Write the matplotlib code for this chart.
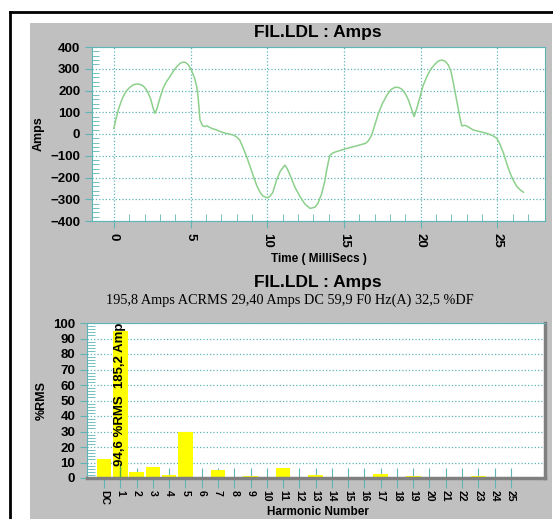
import numpy as np
import matplotlib
matplotlib.use("Agg")
import matplotlib.pyplot as plt
from matplotlib.patches import Rectangle
from matplotlib.lines import Line2D

plt.rcParams['font.family'] = ['Liberation Sans', 'DejaVu Sans']

# waveform (ms, A)
t = [0.0, 0.1, 0.28, 0.45, 0.6, 0.8, 1.04, 1.25, 1.48, 1.7, 1.91, 2.1, 2.24, 2.4, 2.55, 2.67,
     2.8, 2.9, 3.05, 3.2, 3.4, 3.65, 3.9, 4.1, 4.3, 4.48, 4.65, 4.85, 5.07, 5.25, 5.4, 5.5,
     5.61, 5.78, 5.95, 6.05, 6.2, 6.37, 6.7, 7.13, 7.5, 7.8, 8.0, 8.2, 8.4, 8.65, 8.9,
     9.1, 9.3, 9.5, 9.7, 9.96, 10.15, 10.35, 10.6, 10.85, 11.15, 11.3, 11.48, 11.8, 12.13,
     12.45, 12.78, 13.1, 13.3, 13.55, 13.75, 13.87, 14.0, 14.09, 14.25, 14.5, 15.2, 15.8,
     16.4, 16.6, 16.8, 17.0, 17.24, 17.5, 17.8, 18.05, 18.33, 18.55, 18.77, 19.0, 19.2,
     19.4, 19.57, 19.75, 19.96, 20.15, 20.4, 20.65, 20.94, 21.15, 21.38, 21.6, 21.8, 21.98,
     22.13, 22.3, 22.46, 22.58, 22.68, 22.85, 23.0, 23.2, 23.44, 23.9, 24.3, 24.7, 24.96,
     25.15, 25.4, 25.6, 25.83, 26.05, 26.27, 26.5, 26.7]
amps = [26, 60, 110, 145, 172, 197, 215, 226, 230, 228, 221, 205, 187, 160, 120, 95,
        115, 141, 177, 210, 238, 264, 292, 310, 324, 330, 330, 318, 290, 258, 218, 160,
        64, 38, 34, 38, 32, 26, 18, 6, 0, -5, -14, -28, -60, -104, -155,
        -196, -235, -265, -284, -293, -288, -270, -212, -170, -143, -160, -189, -245, -288,
        -322, -342, -337, -318, -273, -215, -166, -120, -97, -88, -81, -66, -55,
        -43, -30, -5, 40, 95, 140, 179, 204, 215, 214, 206, 185, 156,
        115, 80, 120, 172, 222, 264, 298, 322, 336, 340, 334, 317, 285,
        233, 170, 110, 65, 37, 40, 37, 28, 18, 10, 3, -8, -20,
        -45, -89, -135, -181, -215, -242, -258, -268]

harmonics = ['DC'] + [str(i) for i in range(1, 26)]
pct_rms = [12, 94.6, 3.8, 6.8, 2, 30, 0.7, 5.2, 0.7, 1.1, 0.6, 6.7, 0.6, 1.8, 0.4,
           0.4, 0.4, 2.9, 0.4, 1.2, 0.4, 0.3, 0.3, 1.4, 0.4, 0.4]

title = 'FIL.LDL : Amps'
summary = '195,8 Amps ACRMS 29,40 Amps DC 59,9 F0 Hz(A) 32,5 %DF'
bar_note = '94,6 %RMS  185,2 Amps'

W, H = 553, 519
fig = plt.figure(figsize=(W / 100, H / 100), dpi=100)
fig.patch.set_facecolor('white')

def fx(px):
    return px / W

def fy(py):
    return 1 - py / H

# gray panel and black frame
fig.patches.append(Rectangle((fx(30), 0), fx(552) - fx(30), fy(23), transform=fig.transFigure,
                             facecolor='#c0c0c0', edgecolor='none', zorder=-10))
fig.lines.append(Line2D([fx(9.5), fx(9.5)], [0, fy(12)], transform=fig.transFigure,
                        color='black', lw=2, zorder=-10))
fig.lines.append(Line2D([fx(9.5), 1], [fy(12), fy(12)], transform=fig.transFigure,
                        color='black', lw=2, zorder=-10))

teal = '#5fb5b5'

# ---- top: waveform
ax1 = fig.add_axes([fx(92), fy(221), fx(545) - fx(92), fy(47) - fy(221)])
ax1.plot(t, amps, color='#8cd08c', lw=1.1)
ax1.set_xlim(-1.43, 28.1)
ax1.set_ylim(-400, 400)
ax1.set_yticks(range(-400, 401, 100))
ax1.set_xticks(range(0, 26, 5))
ax1.set_xticks(range(0, 28), minor=True)
ax1.set_yticks(range(-400, 401, 20), minor=True)
ax1.grid(True, which='major', color=teal, ls=':', lw=0.9)
for s in ax1.spines.values():
    s.set_color(teal)
ax1.tick_params(axis='both', which='major', color=teal, direction='out', length=5, labelsize=9.5)
ax1.tick_params(axis='both', which='minor', color=teal, direction='in', length=5, width=0.6)
for lab in ax1.get_yticklabels():
    lab.set_fontweight('bold')
for lab in ax1.get_xticklabels():
    lab.set_fontweight('bold')
    lab.set_rotation(-90)
ax1.set_ylabel('Amps', fontweight='bold', fontsize=9, labelpad=4)
ax1.set_xlabel('Time ( MilliSecs )', fontweight='bold', fontsize=8.5, labelpad=4)
fig.text(fx(318), fy(33), title, ha='center', va='center', fontsize=12.5, fontweight='bold')

# ---- bottom: harmonics
ax2 = fig.add_axes([fx(87), fy(478), fx(545) - fx(87), fy(323) - fy(478)])
x = np.arange(len(harmonics))
ax2.bar(x, pct_rms, width=0.9, color='#ffff00', zorder=2)
ax2.plot([1, 1], [0, 9], color='#55aa55', lw=1, zorder=3)
ax2.set_xlim(-1.05, 27.1)
ax2.set_ylim(0, 100)
ax2.set_yticks(range(0, 101, 10))
ax2.set_yticks(range(0, 101, 2), minor=True)
ax2.set_xticks(x)
ax2.set_xticklabels(harmonics, rotation=-90, fontweight='bold', fontsize=7.5)
ax2.grid(True, axis='y', which='major', color=teal, ls=':', lw=0.9, zorder=1)
ax2.set_axisbelow(True)
for s in ax2.spines.values():
    s.set_color(teal)
ax2.spines['bottom'].set_color('#808080')
ax2.spines['bottom'].set_linewidth(2.5)
ax2.spines['right'].set_color('#808080')
ax2.spines['right'].set_linewidth(2.5)
ax2.tick_params(axis='x', which='major', color=teal, direction='inout', length=14, labelsize=7.5, pad=2)
ax2.tick_params(axis='y', which='major', color=teal, direction='out', length=5, labelsize=9.5)
ax2.tick_params(axis='y', which='minor', color=teal, direction='in', length=6, width=0.6)
for lab in ax2.get_yticklabels():
    lab.set_fontweight('bold')
ax2.text(1, 7.5, bar_note, rotation=90, ha='center', va='bottom', fontsize=9.5,
         fontweight='bold', clip_on=True, zorder=4)
ax2.set_ylabel('%RMS', fontweight='bold', fontsize=9, labelpad=4)
fig.text(fx(318), fy(512), 'Harmonic Number', ha='center', va='center', fontsize=8.5, fontweight='bold')
fig.text(fx(318), fy(283), title, ha='center', va='center', fontsize=12.5, fontweight='bold')
fig.text(fx(290), fy(300), summary, ha='center', va='center', fontsize=10.3, family='Liberation Serif')

fig.savefig('out.png', dpi=100)
